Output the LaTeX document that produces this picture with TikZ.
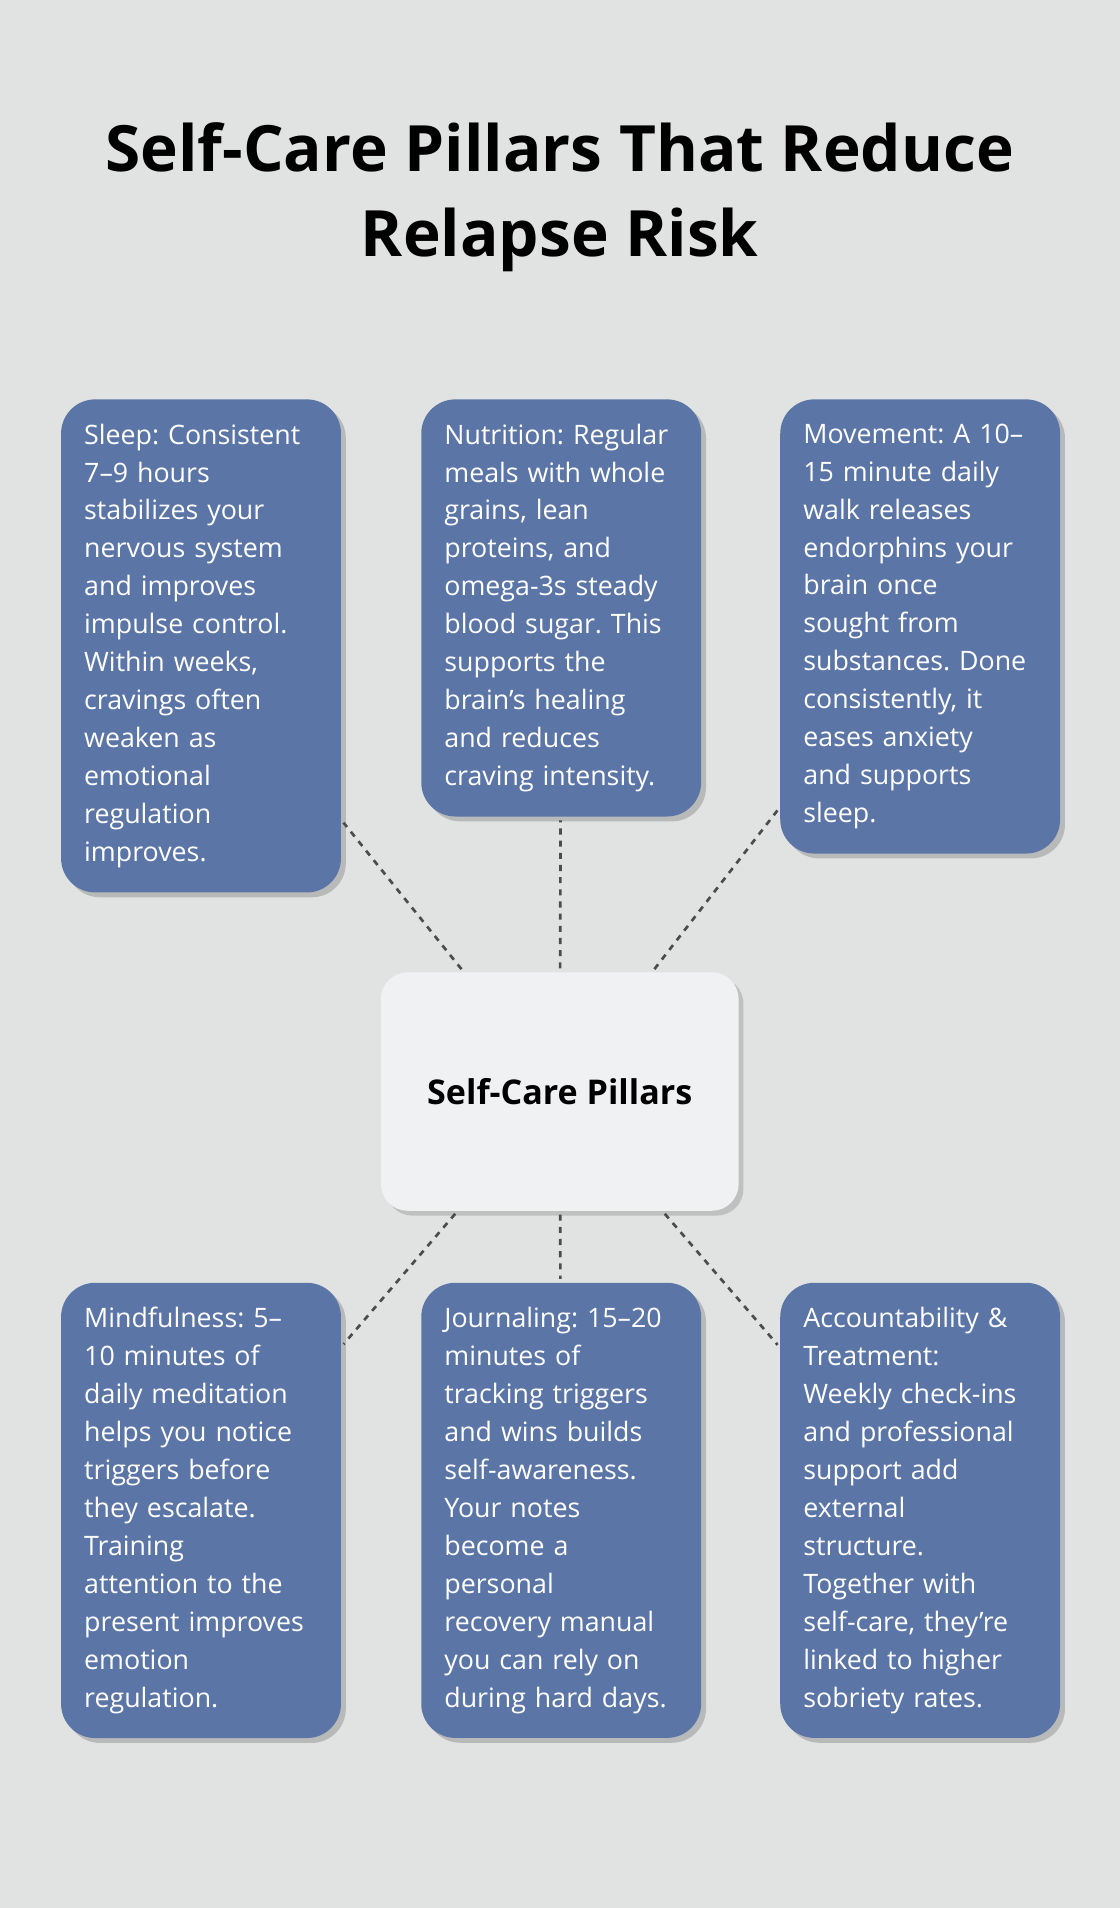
\documentclass[tikz,border=0pt]{standalone}
\usepackage{fontspec}
\setmainfont{Open Sans}
\frenchspacing
\usetikzlibrary{shadows,backgrounds}
\definecolor{bgcol}{HTML}{E1E3E2}
\definecolor{pillar}{HTML}{5B75A6}
\definecolor{hubcol}{HTML}{EFF1F3}
\tikzset{
  pillar/.style={fill=pillar, rounded corners=28pt, text=white, anchor=north west,
    text width=192pt, inner xsep=19pt, inner ysep=20pt, align=left,
    font=\fontsize{22}{31.2}\selectfont,
    drop shadow={shadow xshift=4pt, shadow yshift=-4pt, opacity=0.18, fill=black}},
  hub/.style={fill=hubcol, rounded corners=22pt, minimum width=294pt, minimum height=196pt,
    font=\fontsize{28}{34}\selectfont\bfseries,
    drop shadow={shadow xshift=4pt, shadow yshift=-4pt, opacity=0.15, fill=black}},
  link/.style={dash pattern=on 5pt off 5pt, line width=2.2pt, black!70, shorten <=3pt, shorten >=3pt}
}
\begin{document}
\begin{tikzpicture}[x=1pt,y=1pt]
  \fill[bgcol] (0,0) rectangle (920,-1568);
  \useasboundingbox (0,0) rectangle (920,-1568);
  \node[font=\fontsize{52.5}{70}\selectfont\bfseries, align=center] (title) at (460,-162)
    {Self-Care Pillars That Reduce\\Relapse Risk};
  \node[hub] (hub) at (460,-897) {Self-Care Pillars};
  % top row
  \node[pillar] (sleep) at (50,-328) {Sleep: Consistent\\7–9 hours\\stabilizes your\\nervous system\\and improves\\impulse control.\\Within weeks,\\cravings often\\weaken as\\emotional\\regulation\\improves.};
  \node[pillar] (food) at (346,-328) {Nutrition: Regular\\meals with whole\\grains, lean\\proteins, and\\omega-3s steady\\blood sugar. This\\supports the\\brain’s healing\\and reduces\\craving intensity.};
  \node[pillar] (move) at (641,-328) {Movement: A 10–\\15 minute daily\\walk releases\\endorphins your\\brain once\\sought from\\substances. Done\\consistently, it\\eases anxiety\\and supports\\sleep.};
  % bottom row
  \node[pillar] (mind) at (50,-1054) {Mindfulness: 5–\\10 minutes of\\daily meditation\\helps you notice\\triggers before\\they escalate.\\Training\\attention to the\\present improves\\emotion\\regulation.};
  \node[pillar] (journal) at (346,-1054) {Journaling: 15–20\\minutes of\\tracking triggers\\and wins builds\\self-awareness.\\Your notes\\become a\\personal\\recovery manual\\you can rely on\\during hard days.};
  \node[pillar] (treat) at (641,-1054) {Accountability \&\\Treatment:\\Weekly check-ins\\and professional\\support add\\external\\structure.\\Together with\\self-care, they’re\\linked to higher\\sobriety rates.};
  % links
  \foreach \p in {sleep,food,move,mind,journal,treat}
    \draw[link] (hub) -- (\p);
\end{tikzpicture}
\end{document}
